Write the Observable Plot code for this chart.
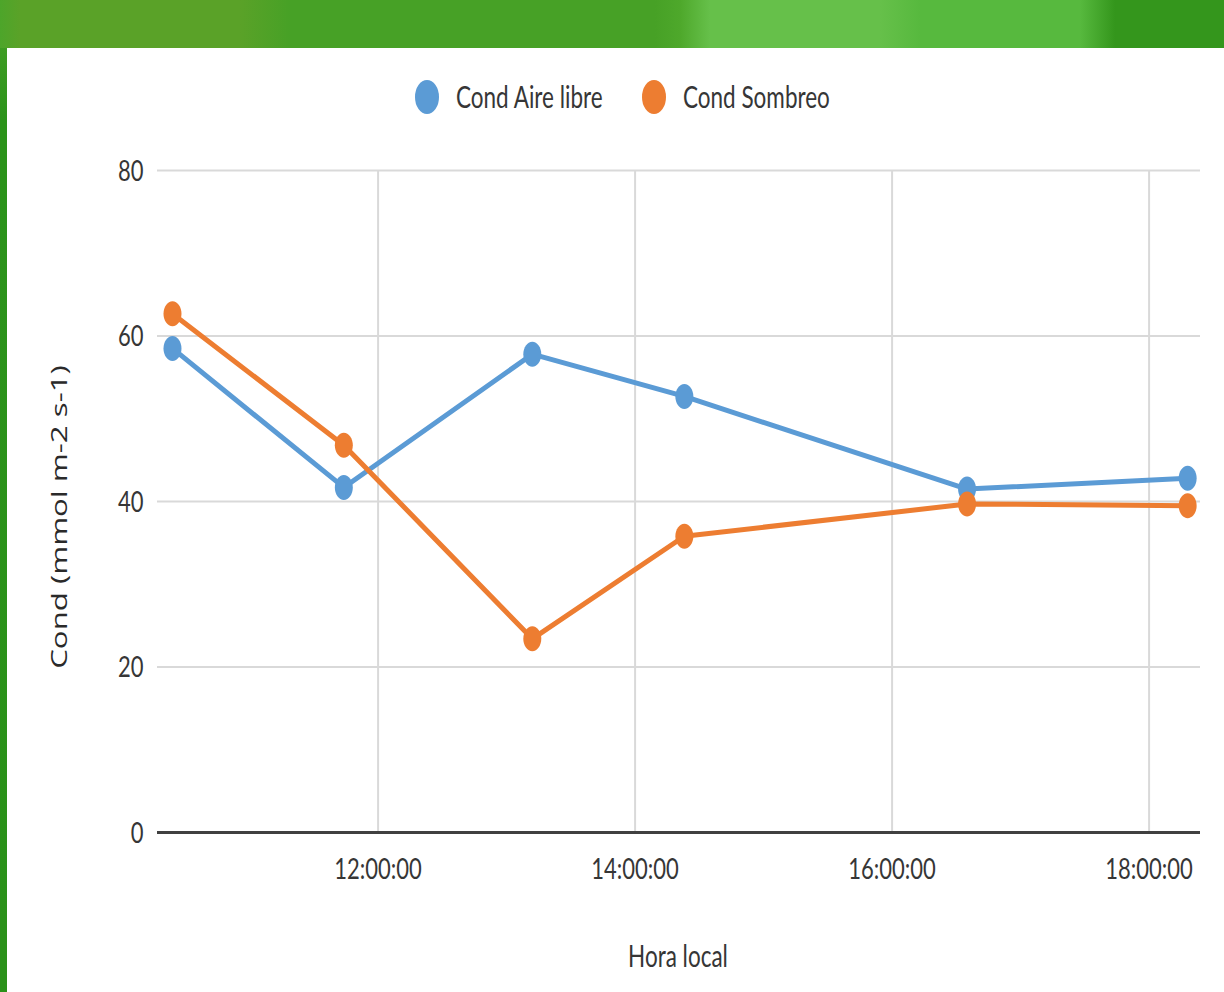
<!DOCTYPE html>
<html>
<head>
<meta charset="utf-8">
<script src="https://cdn.jsdelivr.net/npm/d3@7"></script>
<script src="https://cdn.jsdelivr.net/npm/@observablehq/plot@0.6"></script>
<style>
  body { margin: 0; background: #fff; }
  #page { position: relative; width: 1224px; height: 992px; overflow: hidden;
    background: linear-gradient(180deg, #4aa229 0px, #2b931a 120px, #2a9119 100%); }
  #topband { position: absolute; left: 0; top: 0; width: 1224px; height: 48px;
    background: linear-gradient(90deg, #4da52a 0px, #5aa228 20px, #5aa228 240px, #47a126 290px, #47a126 655px, #4ea82b 680px, #66c04a 710px, #66c04a 880px, #57b93e 920px, #57b93e 1080px, #34961c 1115px, #34961c 1224px); }
  #panel { position: absolute; left: 7px; top: 48px; width: 1217px; height: 944px; background: #fff; }
  #chart { position: absolute; left: 0; top: 0; }
  .tall { font-family: Lato, "Open Sans", sans-serif; color: #363636; white-space: nowrap;
    transform-origin: 50% 50%; }
  .lg-dot { position: absolute; width: 24px; height: 34px; border-radius: 50%; }
  .lg-text { position: absolute; font-size: 22.5px; line-height: 22px; transform: scaleY(1.35); }
  #ylabel { position: absolute; left: 58px; top: 517px; font-family: "Open Sans", sans-serif; font-size: 22px; color: #2a2a2a;
    white-space: nowrap; transform: translate(-50%, -50%) rotate(-90deg) scaleX(1.42); }
  #xlabel { position: absolute; left: 678px; top: 945px; font-size: 22.5px; line-height: 22px;
    transform: translateX(-50%) scaleY(1.35); }
</style>
</head>
<body>
<div id="page">
  <div id="topband"></div>
  <div id="panel"></div>
  <div id="chart"></div>
  <div class="lg-dot" id="dot0" style="left:415px; top:80px;"></div>
  <div class="lg-text tall" id="lab0" style="left:456px; top:86px;"></div>
  <div class="lg-dot" id="dot1" style="left:642px; top:80px;"></div>
  <div class="lg-text tall" id="lab1" style="left:683px; top:86px;"></div>
  <div id="ylabel"></div>
  <div id="xlabel" class="tall"></div>
</div>
<script>
// ---- data ----
const series = ["Cond Aire libre", "Cond Sombreo"];
const seriesColors = ["#5b9bd5", "#ed7d31"];
const horas = ["10:24", "11:44", "13:12", "14:23", "16:35", "18:18"];
const condAireLibre = [58.5, 41.7, 57.8, 52.7, 41.5, 42.8];
const condSombreo = [62.7, 46.8, 23.4, 35.8, 39.7, 39.5];
const xTicks = ["12:00", "14:00", "16:00", "18:00"];
const xDomain = ["10:17", "18:24"];
const yTicks = [0, 20, 40, 60, 80];
const yDomain = [0, 80];
const yLabel = "Cond (mmol m-2 s-1)";
const xLabel = "Hora local";

// ---- build ----
const parseTime = s => new Date(`2000-01-01T${s}:00Z`);
const data = [];
horas.forEach((h, i) => {
  data.push({hora: parseTime(h), serie: series[0], valor: condAireLibre[i]});
  data.push({hora: parseTime(h), serie: series[1], valor: condSombreo[i]});
});
const tickDates = xTicks.map(parseTime);

// ellipse symbol (the reference image is vertically stretched)
const ellipse = {
  draw(context) {
    const rx = 9, ry = 12.5, k = 0.5523;
    context.moveTo(rx, 0);
    context.bezierCurveTo(rx, ry * k, rx * k, ry, 0, ry);
    context.bezierCurveTo(-rx * k, ry, -rx, ry * k, -rx, 0);
    context.bezierCurveTo(-rx, -ry * k, -rx * k, -ry, 0, -ry);
    context.bezierCurveTo(rx * k, -ry, rx, -ry * k, rx, 0);
    context.closePath();
  }
};

const fmt = d3.utcFormat("%H:%M:%S");

const chart = Plot.plot({
  width: 1224,
  height: 992,
  marginLeft: 157,
  marginRight: 24,
  marginTop: 170,
  marginBottom: 160,
  style: {
    background: "transparent",
    fontFamily: 'Lato, "Open Sans", sans-serif',
    fontSize: "22px",
    color: "#363636"
  },
  x: {type: "utc", domain: xDomain.map(parseTime)},
  y: {domain: yDomain},
  color: {domain: series, range: seriesColors},
  marks: [
    Plot.gridY(yTicks.filter(d => d !== 0), {stroke: "#d9d9d9", strokeOpacity: 1, strokeWidth: 2}),
    Plot.gridX(tickDates, {stroke: "#d9d9d9", strokeOpacity: 1, strokeWidth: 2}),
    Plot.ruleY([0], {stroke: "#404040", strokeWidth: 3}),
    Plot.line(data, {x: "hora", y: "valor", z: "serie", stroke: "serie", strokeWidth: 5}),
    Plot.dot(data, {x: "hora", y: "valor", fill: "serie", symbol: ellipse, r: 10, stroke: "none"}),
    Plot.axisY({ticks: yTicks, tickSize: 0, tickPadding: 14, label: null, fill: "#363636"}),
    Plot.axisX({ticks: tickDates, tickFormat: fmt, tickSize: 0, tickPadding: 28, label: null, fill: "#363636"})
  ]
});
document.getElementById("chart").appendChild(chart);

// stretch tick labels vertically, like the reference picture
const S = 1.35;
chart.querySelectorAll("text").forEach(t => {
  const g = document.createElementNS("http://www.w3.org/2000/svg", "g");
  t.parentNode.insertBefore(g, t);
  g.appendChild(t);
  const b = g.getBBox();
  const cx = b.x + b.width / 2, cy = b.y + b.height / 2;
  g.setAttribute("transform", `translate(${cx},${cy}) scale(1,${S}) translate(${-cx},${-cy})`);
});

// legend & labels
series.forEach((s, i) => {
  document.getElementById("dot" + i).style.background = seriesColors[i];
  document.getElementById("lab" + i).textContent = s;
});
document.getElementById("ylabel").textContent = yLabel;
document.getElementById("xlabel").textContent = xLabel;
</script>
</body>
</html>
